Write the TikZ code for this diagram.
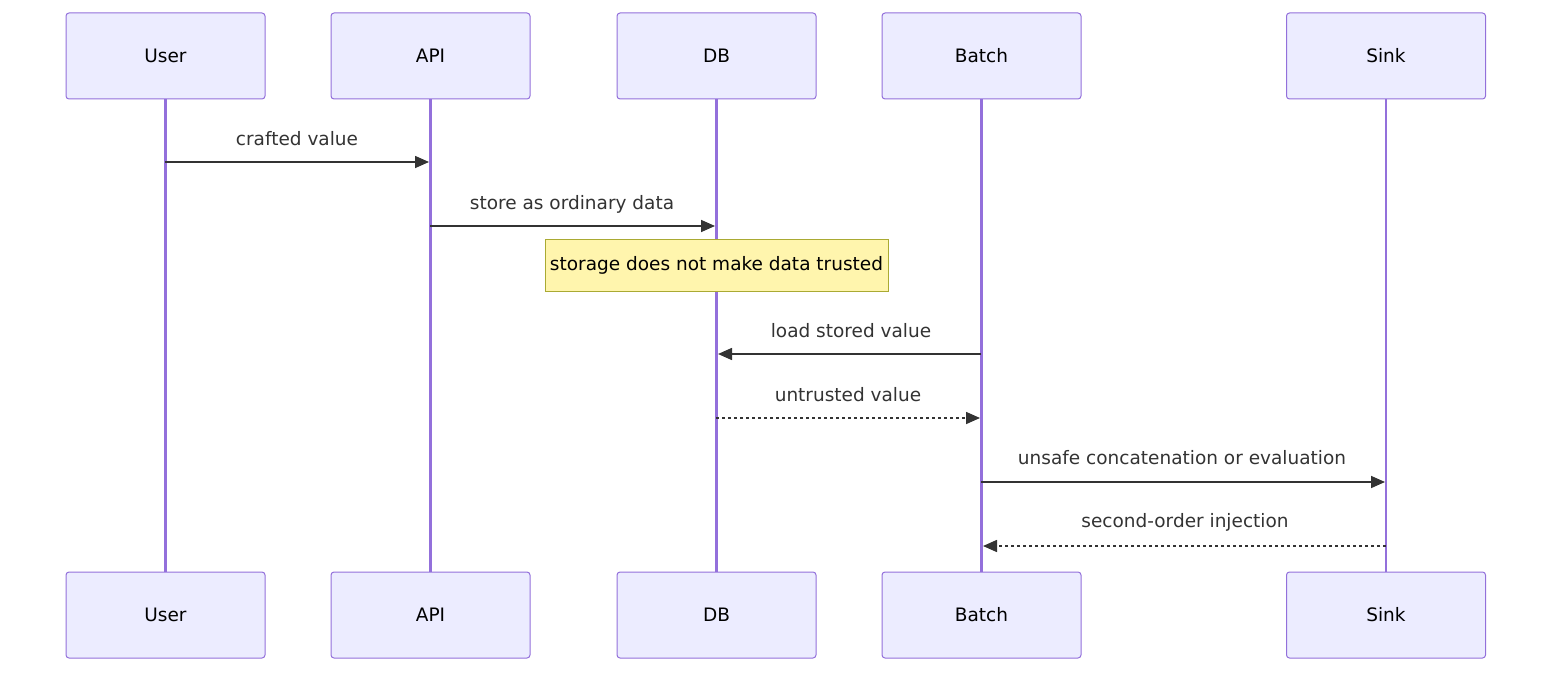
\documentclass[tikz,border=0pt]{standalone}
\usepackage{fontspec}
\setmainfont{DejaVu Sans}
\usetikzlibrary{arrows.meta}
\definecolor{actorfill}{HTML}{ECECFF}
\definecolor{actorline}{HTML}{9370DB}
\definecolor{msgcol}{HTML}{333333}
\definecolor{notefill}{HTML}{FFF5AD}
\definecolor{noteline}{HTML}{AAAA33}
\tikzset{
  actor/.style={draw=actorline, fill=actorfill, line width=1pt, rounded corners=3pt,
    minimum width=199pt, minimum height=86pt, inner sep=0pt,
    font=\fontsize{18.5}{22}\selectfont, text=black},
  lifeline/.style={draw=actorline, line width=2.2pt},
  msg/.style={draw=msgcol, line width=1.6pt, -{Triangle[length=14pt,width=12pt]}},
  dmsg/.style={msg, dash pattern=on 3pt off 3pt},
  msglabel/.style={font=\fontsize{18.5}{22}\selectfont, text=msgcol, inner sep=0pt},
  note/.style={draw=noteline, fill=notefill, line width=1pt, minimum width=343pt,
    minimum height=52pt, inner sep=0pt, font=\fontsize{18.5}{22}\selectfont, text=black}
}
\begin{document}
\begin{tikzpicture}[x=1pt,y=-1pt]
\useasboundingbox (0,0) rectangle (1568,682);
% actors
\foreach \n/\t/\x in {u/User/165.5, a/API/430.5, d/DB/716.5, b/Batch/981.5, s/Sink/1386} {
  \node[actor] (\n T) at (\x,56) {\t};
  \node[actor] (\n B) at (\x,615) {\t};
  \draw[lifeline] (\n T.south) -- (\n B.north);
}
% message endpoints
\coordinate (m1s) at (165,162); \coordinate (m1e) at (429,162);
\coordinate (m2s) at (430,226); \coordinate (m2e) at (715,226);
\coordinate (m3s) at (981,354); \coordinate (m3e) at (718,354);
\coordinate (m4s) at (716,418); \coordinate (m4e) at (980,418);
\coordinate (m5s) at (981,482); \coordinate (m5e) at (1385,482);
\coordinate (m6s) at (1386,546); \coordinate (m6e) at (983,546);
% note
\node[note] (n1) at (716.5,265) {storage does not make data trusted};
% messages
\draw[msg] (m1s) -- (m1e);
\node[msglabel] (l1) at (297,139) {crafted value};
\draw[msg] (m2s) -- (m2e);
\node[msglabel] (l2) at (572,204) {store as ordinary data};
\draw[msg] (m3s) -- (m3e);
\node[msglabel] (l3) at (851,331) {load stored value};
\draw[dmsg] (m4s) -- (m4e);
\node[msglabel] (l4) at (848,395) {untrusted value};
\draw[msg] (m5s) -- (m5e);
\node[msglabel] (l5) at (1182,458) {unsafe concatenation or evaluation};
\draw[dmsg] (m6s) -- (m6e);
\node[msglabel] (l6) at (1185,522) {second-order injection};
\end{tikzpicture}
\end{document}
